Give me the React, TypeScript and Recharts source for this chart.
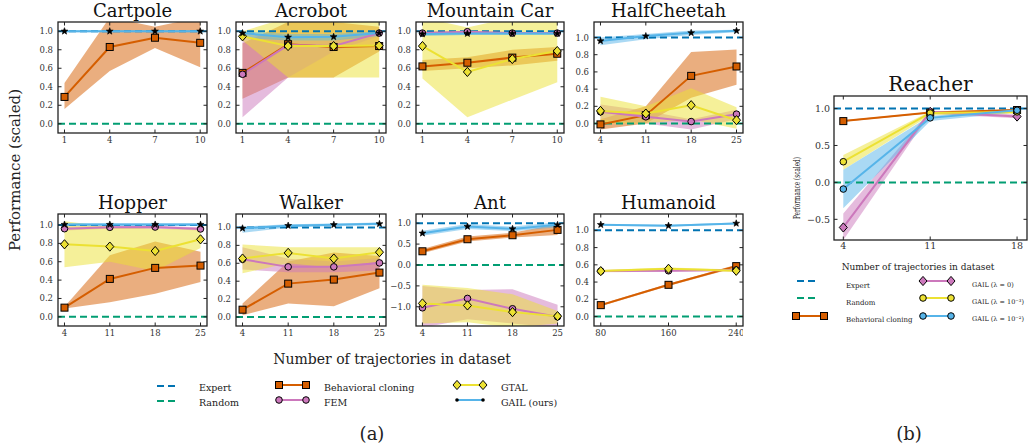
import React from 'react';
import { ComposedChart, Line, Area, XAxis, YAxis, ReferenceLine } from 'recharts';

// each point: [mean, low, high]
type T = [number, number, number];

const COL = {
  expert: '#0173b2',
  random: '#029e73',
  bc: '#d55e00',
  fem: '#cc78bc',
  gtal: '#ece133',
  gail: '#56b4e9',
};

const xClassic = [1, 4, 7, 10];
const xMujoco = [4, 11, 18, 25];
const xHumanoid = [80, 160, 240];
const xReacher = [4, 11, 18];

const yUnitTicks = [0, 0.2, 0.4, 0.6, 0.8, 1.0];
const yAntTicks = [-1, -0.5, 0, 0.5, 1];
const yReacherTicks = [-0.5, 0, 0.5, 1];

const cartpoleBC: T[] = [[0.29, 0.16, 0.44], [0.83, 0.57, 1.15], [0.93, 0.82, 1.05], [0.875, 0.61, 1.15]];
const cartpoleGail: T[] = [[1, 0.99, 1.01], [1, 0.99, 1.01], [1, 0.99, 1.01], [1, 0.99, 1.01]];

const acrobotBC: T[] = [[0.55, 0.27, 0.87], [0.86, 0.5, 1.1], [0.83, 0.5, 1.1], [0.84, 0.78, 1.05]];
const acrobotFem: T[] = [[0.535, 0.07, 0.99], [0.85, 0.5, 0.9], [0.84, 0.78, 0.9], [0.98, 0.95, 1.0]];
const acrobotGtal: T[] = [[0.945, 0.9, 1.0], [0.84, 0.5, 1.15], [0.84, 0.5, 1.15], [0.845, 0.5, 1.15]];
const acrobotGail: T[] = [[0.98, 0.93, 1.0], [0.935, 0.9, 0.97], [0.94, 0.9, 0.97], [0.98, 0.95, 1.0]];

const mountainBC: T[] = [[0.62, 0.57, 0.69], [0.66, 0.6, 0.72], [0.715, 0.63, 0.8], [0.757, 0.68, 0.83]];
const mountainFem: T[] = [[0.98, 0.97, 1.0], [0.995, 0.98, 1.0], [0.98, 0.97, 0.99], [0.98, 0.97, 0.99]];
const mountainGtal: T[] = [[0.84, 0.49, 1.15], [0.56, 0.07, 1.04], [0.7, 0.26, 1.15], [0.786, 0.45, 1.15]];
const mountainGail: T[] = [[0.97, 0.95, 0.99], [0.975, 0.96, 0.99], [0.975, 0.96, 0.99], [0.975, 0.96, 0.99]];

const cheetahBC: T[] = [[-0.01, -0.07, 0.05], [0.097, 0.0, 0.2], [0.554, 0.3, 0.83], [0.663, 0.45, 0.86]];
const cheetahFem: T[] = [[0.136, 0.05, 0.22], [0.078, 0.0, 0.15], [0.023, -0.07, 0.05], [0.109, 0.05, 0.16]];
const cheetahGtal: T[] = [[0.147, 0.0, 0.31], [0.116, 0.0, 0.2], [0.213, 0.05, 0.41], [0.039, -0.06, 0.19]];
const cheetahGail: T[] = [[0.96, 0.91, 1.0], [1.016, 0.98, 1.04], [1.054, 1.03, 1.08], [1.078, 1.06, 1.09]];

const hopperBC: T[] = [[0.1, 0.09, 0.11], [0.413, 0.16, 0.67], [0.533, 0.25, 0.82], [0.558, 0.38, 0.71]];
const hopperFem: T[] = [[0.96, 0.94, 0.98], [0.975, 0.96, 0.99], [0.978, 0.96, 0.99], [0.957, 0.94, 0.975]];
const hopperGtal: T[] = [[0.79, 0.54, 1.04], [0.765, 0.6, 0.98], [0.717, 0.5, 0.96], [0.844, 0.75, 0.95]];
const hopperGail: T[] = [[1.005, 0.99, 1.02], [1.005, 0.99, 1.02], [1.005, 0.99, 1.02], [1.005, 0.99, 1.02]];

const walkerBC: T[] = [[0.082, 0.02, 0.15], [0.373, 0.15, 0.62], [0.418, 0.12, 0.72], [0.496, 0.32, 0.68]];
const walkerFem: T[] = [[0.645, 0.53, 0.78], [0.56, 0.5, 0.65], [0.56, 0.5, 0.62], [0.604, 0.52, 0.66]];
const walkerGtal: T[] = [[0.653, 0.49, 0.81], [0.716, 0.6, 0.78], [0.653, 0.55, 0.78], [0.724, 0.62, 0.78]];
const walkerGail: T[] = [[0.99, 0.94, 1.01], [1.02, 1.0, 1.035], [1.03, 1.015, 1.045], [1.04, 1.025, 1.055]];

const antBC: T[] = [[0.328, 0.28, 0.38], [0.616, 0.56, 0.68], [0.712, 0.66, 0.77], [0.84, 0.72, 0.98]];
const antFem: T[] = [[-1.024, -1.5, -0.5], [-0.8, -1.3, -0.6], [-1.048, -1.4, -0.58], [-1.24, -1.5, -0.95]];
const antGtal: T[] = [[-0.92, -1.4, -0.47], [-0.968, -1.37, -0.55], [-1.128, -1.5, -0.7], [-1.224, -1.4, -1.1]];
const antGail: T[] = [[0.76, 0.7, 0.82], [0.92, 0.86, 0.98], [0.864, 0.81, 0.92], [0.96, 0.9, 1.02]];

const humanoidBC: T[] = [[0.132, 0.12, 0.145], [0.368, 0.355, 0.38], [0.585, 0.57, 0.6]];
const humanoidFem: T[] = [[0.527, 0.515, 0.54], [0.531, 0.52, 0.545], [0.54, 0.53, 0.55]];
const humanoidGtal: T[] = [[0.527, 0.515, 0.54], [0.554, 0.54, 0.57], [0.531, 0.52, 0.545]];
const humanoidGail: T[] = [[1.066, 1.055, 1.075], [1.054, 1.045, 1.065], [1.081, 1.07, 1.09]];

const reacherBC: T[] = [[0.83, 0.82, 0.84], [0.946, 0.935, 0.955], [0.98, 0.97, 0.99]];
const reacherL0: T[] = [[-0.61, -0.78, -0.42], [0.955, 0.93, 0.97], [0.892, 0.87, 0.92]];
const reacherL3: T[] = [[0.28, 0.17, 0.37], [0.94, 0.91, 0.96], [0.955, 0.93, 0.97]];
const reacherL2: T[] = [[-0.09, -0.35, 0.17], [0.874, 0.83, 0.9], [0.977, 0.95, 1.0]];

type Marker = 'square' | 'circle' | 'diamond' | 'star';
type Series = { key: string; vals: T[]; color: string; marker: Marker };

const bc = (vals: T[]): Series => ({ key: 'bc', vals, color: COL.bc, marker: 'square' });
const fem = (vals: T[]): Series => ({ key: 'fem', vals, color: COL.fem, marker: 'circle' });
const gtal = (vals: T[]): Series => ({ key: 'gtal', vals, color: COL.gtal, marker: 'diamond' });
const gail = (vals: T[]): Series => ({ key: 'gail', vals, color: COL.gail, marker: 'star' });

interface PanelDef {
  title: string;
  x: number; y: number; w: number; h: number;
  xs: number[];
  xDomain: [number, number];
  yDomain: [number, number];
  yTicks: number[];
  series: Series[];
  small?: boolean;
}

const ROW1 = { y: 22, h: 111 };
const ROW2 = { y: 214, h: 112 };

const panels: PanelDef[] = [
  { title: 'Cartpole', x: 58, w: 149, ...ROW1, xs: xClassic, xDomain: [0.57, 10.45], yDomain: [-0.1, 1.1], yTicks: yUnitTicks,
    series: [bc(cartpoleBC), gail(cartpoleGail)] },
  { title: 'Acrobot', x: 236, w: 150, ...ROW1, xs: xClassic, xDomain: [0.57, 10.45], yDomain: [-0.1, 1.1], yTicks: yUnitTicks,
    series: [bc(acrobotBC), fem(acrobotFem), gtal(acrobotGtal), gail(acrobotGail)] },
  { title: 'Mountain Car', x: 416, w: 148, ...ROW1, xs: xClassic, xDomain: [0.57, 10.45], yDomain: [-0.1, 1.1], yTicks: yUnitTicks,
    series: [bc(mountainBC), fem(mountainFem), gtal(mountainGtal), gail(mountainGail)] },
  { title: 'HalfCheetah', x: 594, w: 149, ...ROW1, xs: xMujoco, xDomain: [3, 26], yDomain: [-0.11, 1.18], yTicks: yUnitTicks,
    series: [bc(cheetahBC), fem(cheetahFem), gtal(cheetahGtal), gail(cheetahGail)] },
  { title: 'Hopper', x: 58, w: 149, ...ROW2, xs: xMujoco, xDomain: [3, 26], yDomain: [-0.1, 1.12], yTicks: yUnitTicks,
    series: [bc(hopperBC), fem(hopperFem), gtal(hopperGtal), gail(hopperGail)] },
  { title: 'Walker', x: 236, w: 150, ...ROW2, xs: xMujoco, xDomain: [3, 26], yDomain: [-0.1, 1.15], yTicks: yUnitTicks,
    series: [bc(walkerBC), fem(walkerFem), gtal(walkerGtal), gail(walkerGail)] },
  { title: 'Ant', x: 416, w: 148, ...ROW2, xs: xMujoco, xDomain: [3, 26], yDomain: [-1.46, 1.22], yTicks: yAntTicks,
    series: [bc(antBC), fem(antFem), gtal(antGtal), gail(antGail)] },
  { title: 'Humanoid', x: 594, w: 149, ...ROW2, xs: xHumanoid, xDomain: [72, 248], yDomain: [-0.11, 1.19], yTicks: yUnitTicks,
    series: [bc(humanoidBC), fem(humanoidFem), gtal(humanoidGtal), gail(humanoidGail)] },
];

const reacher: PanelDef = {
  title: 'Reacher', x: 834, y: 96, w: 193, h: 144, xs: xReacher, xDomain: [3.25, 18.8], yDomain: [-0.78, 1.17], yTicks: yReacherTicks,
  series: [
    { key: 'bc', vals: reacherBC, color: COL.bc, marker: 'square' },
    { key: 'l0', vals: reacherL0, color: COL.fem, marker: 'diamond' },
    { key: 'l3', vals: reacherL3, color: COL.gtal, marker: 'circle' },
    { key: 'l2', vals: reacherL2, color: COL.gail, marker: 'circle' },
  ],
};

const SERIF = '"DejaVu Serif", "Liberation Serif", serif';
const fmt = (v: number) => v.toFixed(1).replace('-', '\u2212');

function starPath(cx: number, cy: number, R: number, r: number) {
  let d = '';
  for (let i = 0; i < 10; i++) {
    const a = -Math.PI / 2 + (i * Math.PI) / 5;
    const rr = i % 2 ? r : R;
    d += (i ? 'L' : 'M') + (cx + rr * Math.cos(a)).toFixed(2) + ' ' + (cy + rr * Math.sin(a)).toFixed(2);
  }
  return d + 'Z';
}

function MarkerShape({ kind, cx, cy, color }: { kind: Marker; cx: number; cy: number; color: string }) {
  switch (kind) {
    case 'square':
      return <rect x={cx - 3.5} y={cy - 3.5} width={7} height={7} fill={color} stroke="#000" strokeWidth={1} />;
    case 'circle':
      return <circle cx={cx} cy={cy} r={3.3} fill={color} stroke="#000" strokeWidth={1} />;
    case 'diamond':
      return <path d={`M${cx} ${cy - 4.6}L${cx + 4} ${cy}L${cx} ${cy + 4.6}L${cx - 4} ${cy}Z`} fill={color} stroke="#000" strokeWidth={1} />;
    default:
      return <path d={starPath(cx, cy, 3.6, 1.5)} fill="#000" stroke="#000" strokeWidth={0.6} />;
  }
}

const dotFor = (kind: Marker, color: string) => (p: any) => {
  const { cx, cy, index } = p;
  if (cx == null || cy == null || isNaN(cy)) return <g key={`d${index}`} />;
  return <g key={`d${index}`}><MarkerShape kind={kind} cx={cx} cy={cy} color={color} /></g>;
};

const YW = 40;
const XH = 20;

function Panel({ p }: { p: PanelDef }) {
  const data = p.xs.map((x, i) => {
    const row: any = { x };
    p.series.forEach(s => {
      row[s.key] = s.vals[i][0];
      row[s.key + 'Band'] = [s.vals[i][1], s.vals[i][2]];
    });
    return row;
  });
  const big = p === reacher;
  const tickStyle = { fontSize: big ? 9.5 : 8.5, fill: '#333', fontFamily: SERIF };
  return (
    <div style={{ position: 'absolute', left: p.x - YW, top: p.y }}>
      <ComposedChart width={p.w + YW} height={p.h + XH} data={data} margin={{ top: 0, right: 0, bottom: 0, left: 0 }}>
        <XAxis dataKey="x" type="number" domain={p.xDomain} ticks={p.xs} allowDataOverflow interval={0}
          axisLine={false} tickLine={false} tickSize={0} tickMargin={big ? 2 : 4} height={XH} tick={tickStyle} />
        <YAxis type="number" domain={p.yDomain} ticks={p.yTicks} allowDataOverflow interval={0}
          axisLine={false} tickLine={false} tickSize={0} tickMargin={big ? 4 : 5} width={YW} tick={tickStyle} tickFormatter={fmt} />
        {p.series.map(s => (
          <Area key={s.key + 'Band'} type="linear" dataKey={s.key + 'Band'} stroke="none" fill={s.color}
            fillOpacity={0.5} dot={false} activeDot={false} isAnimationActive={false} />
        ))}
        <ReferenceLine y={1} stroke={COL.expert} strokeWidth={2} strokeDasharray="7 4" />
        <ReferenceLine y={0} stroke={COL.random} strokeWidth={2} strokeDasharray="7 4" />
        {p.series.map(s => (
          <Line key={s.key} type="linear" dataKey={s.key} stroke={s.color} strokeWidth={2}
            dot={dotFor(s.marker, s.color)} activeDot={false} isAnimationActive={false} />
        ))}
      </ComposedChart>
    </div>
  );
}

function Frame({ p }: { p: PanelDef }) {
  const sx = (v: number) => p.x + ((v - p.xDomain[0]) / (p.xDomain[1] - p.xDomain[0])) * p.w;
  const sy = (v: number) => p.y + p.h - ((v - p.yDomain[0]) / (p.yDomain[1] - p.yDomain[0])) * p.h;
  const L = 3.5;
  return (
    <g>
      {p.xs.map(v => (
        <g key={'x' + v}>
          <line x1={sx(v)} x2={sx(v)} y1={p.y + p.h} y2={p.y + p.h - L} stroke="#222" />
          <line x1={sx(v)} x2={sx(v)} y1={p.y} y2={p.y + L} stroke="#222" />
        </g>
      ))}
      {p.yTicks.map(v => (
        <g key={'y' + v}>
          <line x1={p.x} x2={p.x + L} y1={sy(v)} y2={sy(v)} stroke="#222" />
          <line x1={p.x + p.w} x2={p.x + p.w - L} y1={sy(v)} y2={sy(v)} stroke="#222" />
        </g>
      ))}
      <rect x={p.x} y={p.y} width={p.w} height={p.h} fill="none" stroke="#222" strokeWidth={1.3} />
      <text x={p.x + p.w / 2} y={p.y - (p === reacher ? 5.5 : 4.7)} textAnchor="middle" fontSize={p === reacher ? 20 : 18} fontFamily={SERIF} fill="#111">
        {p.title}
      </text>
    </g>
  );
}

function LegendSample({ x1, x2, y, color, marker, dashed }: { x1: number; x2: number; y: number; color: string; marker?: Marker | 'dot'; dashed?: boolean }) {
  return (
    <g>
      <line x1={x1} x2={x2} y1={y} y2={y} stroke={color} strokeWidth={2} strokeDasharray={dashed ? '7 4' : undefined} />
      {marker === 'dot' && [x1, x2].map(cx => <circle key={cx} cx={cx} cy={y} r={1.8} fill="#000" />)}
      {marker && marker !== 'dot' && [x1, x2].map(cx => <MarkerShape key={cx} kind={marker} cx={cx} cy={y} color={color} />)}
    </g>
  );
}

export default function App() {
  const txt = { fontFamily: SERIF, fill: '#222' };
  return (
    <div style={{ position: 'absolute', left: 0, top: 0, width: 1028, height: 446, background: '#fff', overflow: 'hidden' }}>
      {panels.map(p => <Panel key={p.title} p={p} />)}
      <Panel p={reacher} />
      <svg width={1028} height={446} style={{ position: 'absolute', left: 0, top: 0, pointerEvents: 'none' }}>
        {panels.map(p => <Frame key={p.title} p={p} />)}
        <Frame p={reacher} />

        <text transform="translate(20,170) rotate(-90)" textAnchor="middle" fontSize={15} {...txt}>Performance (scaled)</text>
        <text x={392} y={364} textAnchor="middle" fontSize={14} {...txt}>Number of trajectories in dataset</text>

        <LegendSample x1={157} x2={175} y={386} color={COL.expert} dashed />
        <LegendSample x1={157} x2={175} y={401} color={COL.random} dashed />
        <text x={199} y={391} fontSize={9.5} {...txt}>Expert</text>
        <text x={199} y={405.5} fontSize={9.5} {...txt}>Random</text>
        <LegendSample x1={279} x2={306} y={385} color={COL.bc} marker="square" />
        <LegendSample x1={279} x2={306} y={400} color={COL.fem} marker="circle" />
        <text x={324} y={391} fontSize={9.5} {...txt}>Behavioral cloning</text>
        <text x={324} y={405.5} fontSize={9.5} {...txt}>FEM</text>
        <LegendSample x1={457} x2={483} y={385} color={COL.gtal} marker="diamond" />
        <LegendSample x1={457} x2={483} y={400} color={COL.gail} marker="dot" />
        <text x={501} y={391} fontSize={9.5} {...txt}>GTAL</text>
        <text x={501} y={405.5} fontSize={9.5} {...txt}>GAIL (ours)</text>
        <text x={372} y={440} textAnchor="middle" fontSize={18} {...txt}>(a)</text>

        <text transform="translate(800,188) rotate(-90)" textAnchor="middle" fontSize={9} textLength={62} lengthAdjust="spacingAndGlyphs" {...txt}>Performance (scaled)</text>
        <text x={918} y={270} textAnchor="middle" fontSize={9} {...txt}>Number of trajectories in dataset</text>
        <LegendSample x1={797} x2={817} y={281} color={COL.expert} dashed />
        <LegendSample x1={797} x2={817} y={298} color={COL.random} dashed />
        <LegendSample x1={796} x2={824} y={316} color={COL.bc} marker="square" />
        <text x={846} y={288} fontSize={7} {...txt}>Expert</text>
        <text x={846} y={305} fontSize={7} {...txt}>Random</text>
        <text x={846} y={322} fontSize={7} {...txt}>Behavioral cloning</text>
        <LegendSample x1={923} x2={951} y={281} color={COL.fem} marker="diamond" />
        <LegendSample x1={923} x2={951} y={298} color={COL.gtal} marker="circle" />
        <LegendSample x1={923} x2={951} y={316} color={COL.gail} marker="circle" />
        <text x={972} y={287} fontSize={6.5} {...txt}>GAIL (λ = 0)</text>
        <text x={972} y={304} fontSize={6.5} {...txt}>GAIL (λ = 10⁻³)</text>
        <text x={972} y={321} fontSize={6.5} {...txt}>GAIL (λ = 10⁻²)</text>
        <text x={909} y={440} textAnchor="middle" fontSize={18} {...txt}>(b)</text>
      </svg>
    </div>
  );
}
